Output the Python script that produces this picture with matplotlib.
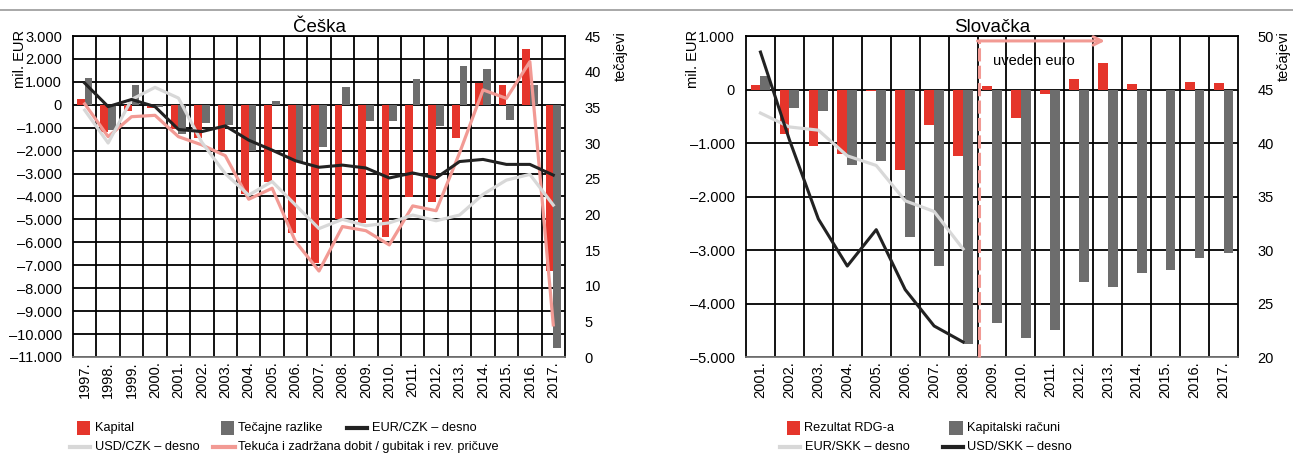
import matplotlib
matplotlib.use("Agg")
import matplotlib.pyplot as plt
from matplotlib.patches import Rectangle
from matplotlib.lines import Line2D
from matplotlib.ticker import FuncFormatter, FixedLocator
import numpy as np

plt.rcParams['font.family'] = ['Liberation Sans Narrow', 'Liberation Sans', 'DejaVu Sans']

# ---------------- data: Češka ----------------
cz_years = [str(y) + "." for y in range(1997, 2018)]
cz_kapital = [260, -1180, -250, -160, -1070, -1440, -1990, -3870, -3380, -5600, -6900,
              -4990, -5140, -5750, -4030, -4220, -1430, 970, 870, 2440, -7230]
cz_tecajne = [1160, -1100, 880, -100, -1280, -810, -880, -2030, 180, -2480, -1830,
              760, -690, -690, 1130, -910, 1690, 1550, -660, 870, -10620]
cz_eur_czk = [38.4, 35.1, 36.1, 35.1, 31.9, 31.6, 32.4, 30.4, 29.0, 27.5, 26.6,
              26.9, 26.5, 25.1, 25.8, 25.1, 27.4, 27.7, 27.0, 27.0, 25.5]
cz_usd_czk = [34.6, 30.0, 36.1, 37.8, 36.3, 30.1, 25.7, 22.7, 24.6, 21.3, 18.0,
              19.3, 18.4, 18.8, 19.9, 19.1, 19.9, 22.8, 24.8, 25.6, 21.3]
cz_dobit = [40, -1390, -520, -460, -1390, -1750, -2220, -4120, -3640, -5970, -7250,
            -5310, -5490, -6110, -4410, -4620, -2100, 650, 280, 1880, -9600]

# ---------------- data: Slovačka ----------------
sk_years = [str(y) + "." for y in range(2001, 2018)]
sk_rdg = [80, -835, -1060, -1210, -25, -1510, -670, -1240, 60, -530, -90, 190, 500, 100, 0, 140, 125]
sk_kapital = [250, -340, -400, -1410, -1340, -2755, -3300, -4760, -4360, -4640, -4500,
              -3600, -3690, -3430, -3380, -3150, -3050]
sk_eur_skk = [42.8, 41.5, 41.2, 38.8, 37.9, 34.6, 33.6, 30.1]
sk_usd_skk = [48.5, 40.3, 32.9, 28.5, 31.9, 26.3, 22.9, 21.4]

RED = "#E5352B"
GRAY = "#6D6D6D"
BLACK = "#222222"
LGRAY = "#D8D8D8"
PINK = "#F29A94"

FS = 10.5
LFS = 9.2

def thousands(v, pos=None):
    s = f"{abs(int(round(v))):,}".replace(",", ".")
    return ("–" + s) if v < 0 else s

W, H = 1293, 461
fig = plt.figure(figsize=(W / 100, H / 100), dpi=100)

def fx(px):
    return px / W

def fy(py):
    return 1 - py / H

def setup(ax, n, labels, ylim, yticks):
    ax.set_xlim(-0.5, n - 0.5)
    ax.set_ylim(*ylim)
    ax.set_yticks(yticks)
    ax.yaxis.set_major_formatter(FuncFormatter(thousands))
    ax.set_xticks(np.arange(n))
    ax.set_xticklabels(labels, rotation=90, fontsize=FS)
    ax.xaxis.set_minor_locator(FixedLocator(np.arange(n - 1) + 0.5))
    ax.tick_params(axis='both', which='both', length=0)
    ax.tick_params(axis='y', labelsize=FS, pad=8)
    ax.tick_params(axis='x', pad=3)
    ax.grid(True, which='major', axis='y', color='black', lw=1.3, zorder=0)
    ax.grid(True, which='minor', axis='x', color='black', lw=1.3, zorder=0)
    ax.set_axisbelow(True)
    for s in ax.spines.values():
        s.set_color('black')
        s.set_linewidth(1.3)
    ax.spines['bottom'].set_color('#777777')

# ---------------- Češka ----------------
ax1 = fig.add_axes([fx(73), fy(357), fx(565 - 73), (357 - 36) / H])
n1 = len(cz_years)
x1 = np.arange(n1)
setup(ax1, n1, cz_years, (-11000, 3000), np.arange(-11000, 3001, 1000))
ax1.bar(x1 - 0.165, cz_kapital, width=0.33, color=RED, zorder=2)
ax1.bar(x1 + 0.165, cz_tecajne, width=0.33, color=GRAY, zorder=2)
ax1.plot(x1, cz_dobit, color=PINK, lw=2.3, zorder=3)
ax1.set_title("Češka", fontsize=13.5, pad=2)

ax1r = ax1.twinx()
ax1r.set_ylim(0, 45)
ax1r.set_yticks(np.arange(0, 46, 5))
ax1r.tick_params(axis='y', length=0, labelsize=FS, pad=14)
for s in ax1r.spines.values():
    s.set_visible(False)
ax1r.plot(x1, cz_usd_czk, color=LGRAY, lw=2.3, zorder=3)
ax1r.plot(x1, cz_eur_czk, color=BLACK, lw=2.2, zorder=4)
ax1.set_zorder(1)
ax1r.set_zorder(2)
ax1r.patch.set_visible(False)

fig.text(fx(20), fy(30), "mil. EUR", rotation=90, ha='center', va='top', fontsize=FS)
fig.text(fx(621), fy(31), "tečajevi", rotation=90, ha='center', va='top', fontsize=FS)

# ---------------- Slovačka ----------------
ax2 = fig.add_axes([fx(746), fy(357), fx(1238 - 746), (357 - 36) / H])
n2 = len(sk_years)
x2 = np.arange(n2)
setup(ax2, n2, sk_years, (-5000, 1000), np.arange(-5000, 1001, 1000))
ax2.bar(x2 - 0.17, sk_rdg, width=0.34, color=RED, zorder=2)
ax2.bar(x2 + 0.17, sk_kapital, width=0.34, color=GRAY, zorder=2)
ax2.set_title("Slovačka", fontsize=13.5, pad=2)

# euro introduction marker
ax2.plot([7.56, 7.56], [-5000, 908], color=PINK, lw=2.2, ls=(0, (4.3, 1.4)), zorder=5, clip_on=False)
ax2.annotate('', xy=(11.9, 908), xytext=(7.5, 908),
             arrowprops=dict(arrowstyle='->', color=PINK, lw=2.2, mutation_scale=15, shrinkA=0, shrinkB=0),
             zorder=5)
ax2.text(9.45, 540, "uveden euro", ha='center', va='center', fontsize=FS, zorder=5)

ax2r = ax2.twinx()
ax2r.set_ylim(20, 50)
ax2r.set_yticks(np.arange(20, 51, 5))
ax2r.tick_params(axis='y', length=0, labelsize=FS, pad=14)
for s in ax2r.spines.values():
    s.set_visible(False)
xe = np.arange(len(sk_eur_skk))
ax2r.plot(xe, sk_eur_skk, color=LGRAY, lw=2.3, zorder=3)
ax2r.plot(xe, sk_usd_skk, color=BLACK, lw=2.2, zorder=4)
ax2.set_zorder(1)
ax2r.set_zorder(2)
ax2r.patch.set_visible(False)

fig.text(fx(693), fy(30), "mil. EUR", rotation=90, ha='center', va='top', fontsize=FS)
fig.text(fx(1284), fy(31), "tečajevi", rotation=90, ha='center', va='top', fontsize=FS)

# top rule
fig.add_artist(Line2D([0, 1], [fy(10), fy(10)], transform=fig.transFigure, color='#999999', lw=1.2))

# ---------------- legends ----------------
def leg_patch(x0, x1p, yc, color, label, tx):
    fig.add_artist(Rectangle((fx(x0), fy(yc + 7)), fx(x1p - x0), 14 / H, transform=fig.transFigure,
                             color=color, lw=0))
    fig.text(fx(tx), fy(yc), label, ha='left', va='center', fontsize=LFS)

def leg_line(x0, x1p, yc, color, label, tx):
    fig.add_artist(Line2D([fx(x0), fx(x1p)], [fy(yc), fy(yc)], transform=fig.transFigure,
                          color=color, lw=3))
    fig.text(fx(tx), fy(yc), label, ha='left', va='center', fontsize=LFS)

r1, r2 = 428, 447
leg_patch(77, 90, r1, RED, "Kapital", 95)
leg_patch(221, 234, r1, GRAY, "Tečajne razlike", 238)
leg_line(347, 367, r1, BLACK, "EUR/CZK – desno", 372)
leg_line(70, 90, r2, LGRAY, "USD/CZK – desno", 95)
leg_line(213, 235, r2, PINK, "Tekuća i zadržana dobit / gubitak i rev. pričuve", 238)

leg_patch(787, 800, r1, RED, "Rezultat RDG-a", 804)
leg_patch(949, 963, r1, GRAY, "Kapitalski računi", 967)
leg_line(780, 800, r2, LGRAY, "EUR/SKK – desno", 805)
leg_line(943, 963, r2, BLACK, "USD/SKK – desno", 967)

fig.savefig("out.png", dpi=100)
